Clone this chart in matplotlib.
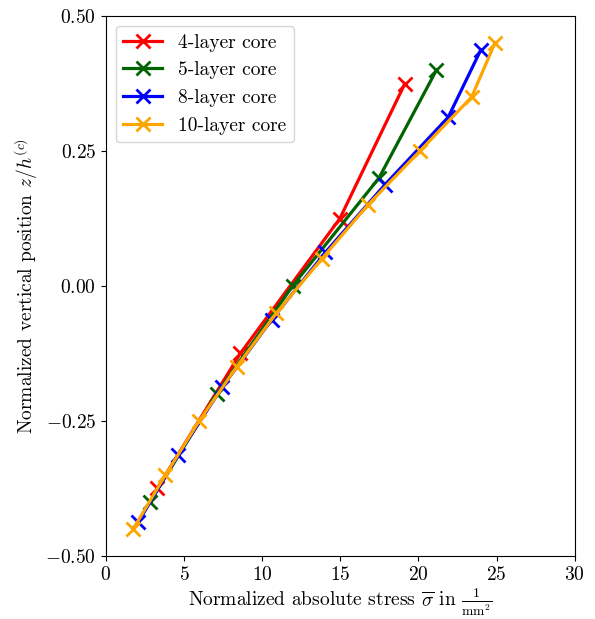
import matplotlib
matplotlib.use("Agg")
import matplotlib.pyplot as plt

plt.rcParams['font.family'] = 'serif'
plt.rcParams['font.serif'] = ['cmr10']
plt.rcParams['mathtext.fontset'] = 'cm'
plt.rcParams['axes.formatter.use_mathtext'] = True
plt.rcParams['font.size'] = 14

labels = ["4-layer core", "5-layer core", "8-layer core", "10-layer core"]
colors = ["red", "darkgreen", "blue", "orange"]

y4 = [-0.375, -0.125, 0.125, 0.375]
x4 = [3.28, 8.6, 14.97, 19.13]

y5 = [-0.4, -0.2, 0.0, 0.2, 0.4]
x5 = [2.82, 7.08, 11.94, 17.47, 21.15]

y8 = [-0.4375, -0.3125, -0.1875, -0.0625, 0.0625, 0.1875, 0.3125, 0.4375]
x8 = [2.07, 4.63, 7.44, 10.6, 14.05, 17.85, 21.9, 23.99]

y10 = [-0.45, -0.35, -0.25, -0.15, -0.05, 0.05, 0.15, 0.25, 0.35, 0.45]
x10 = [1.75, 3.81, 5.97, 8.36, 10.91, 13.8, 16.76, 20.09, 23.4, 24.89]

xs = [x4, x5, x8, x10]
ys = [y4, y5, y8, y10]

fig = plt.figure(figsize=(5.95, 6.19), dpi=100)
ax = fig.add_axes([0.178, 0.102, 0.788, 0.872])
for x, y, c, l in zip(xs, ys, colors, labels):
    ax.plot(x, y, color=c, marker='x', markersize=10, markeredgewidth=2,
            linewidth=2.3, label=l)

ax.set_xlim(0, 30)
ax.set_ylim(-0.5, 0.5)
ax.set_xticks([0, 5, 10, 15, 20, 25, 30])
ax.set_yticks([-0.5, -0.25, 0.0, 0.25, 0.5])
ax.set_yticklabels(["$-0.50$", "$-0.25$", "$0.00$", "$0.25$", "$0.50$"])
ax.set_xticklabels(["$0$", "$5$", "$10$", "$15$", "$20$", "$25$", "$30$"])
ax.set_xlabel(r"Normalized absolute stress $\overline{\sigma}$ in $\frac{1}{\mathrm{mm}^2}$", labelpad=2)
ax.set_ylabel(r"Normalized vertical position $z/h^{(c)}$")
ax.legend(loc='upper left')

fig.savefig("out.png", dpi=100)
